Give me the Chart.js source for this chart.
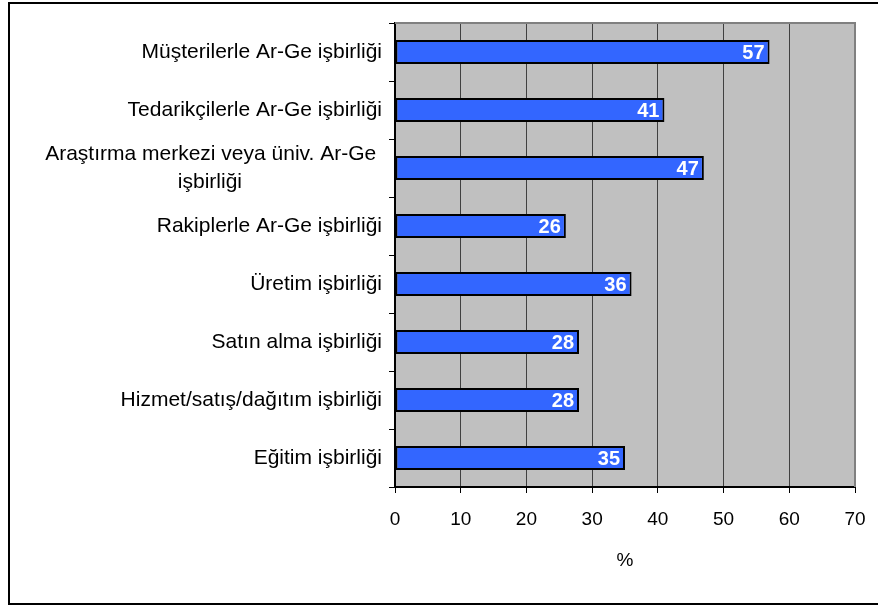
<!DOCTYPE html>
<html>
<head>
<meta charset="utf-8">
<script src="https://cdn.jsdelivr.net/npm/chart.js@4/dist/chart.umd.min.js"></script>
<style>
html,body{margin:0;padding:0;background:#fff;}
#wrap{position:relative;width:878px;height:608px;}
</style>
</head>
<body>
<div id="wrap"><canvas id="c" width="878" height="608"></canvas></div>
<script>
const categories = [
  "Müşterilerle Ar-Ge işbirliği",
  "Tedarikçilerle Ar-Ge işbirliği",
  ["Araştırma merkezi veya üniv. Ar-Ge ", "işbirliği" + " ".repeat(24)],
  "Rakiplerle Ar-Ge işbirliği",
  "Üretim işbirliği",
  "Satın alma işbirliği",
  "Hizmet/satış/dağıtım işbirliği",
  "Eğitim işbirliği"
];
const values = [57, 41, 47, 26, 36, 28, 28, 35];
const xTicks = [0, 10, 20, 30, 40, 50, 60, 70];
const xTitle = "%";

const FONT = "'Liberation Sans', Arial, sans-serif";

const bgPlugin = {
  id: 'bg',
  beforeDraw(chart) {
    const {ctx, chartArea: a} = chart;
    ctx.save();
    ctx.fillStyle = '#ffffff';
    ctx.fillRect(0, 0, chart.width, chart.height);
    ctx.fillStyle = '#c0c0c0';
    ctx.fillRect(a.left, a.top, a.right - a.left, a.bottom - a.top);
    ctx.strokeStyle = '#000';
    ctx.lineWidth = 2;
    ctx.beginPath();
    ctx.moveTo(chart.width + 5, 3);
    ctx.lineTo(9, 3);
    ctx.lineTo(9, 604);
    ctx.lineTo(chart.width + 5, 604);
    ctx.stroke();
    ctx.restore();
  },
  afterDatasetsDraw(chart) {
    const {ctx, chartArea: a} = chart;
    ctx.save();
    ctx.strokeStyle = '#808080';
    ctx.lineWidth = 2;
    ctx.beginPath();
    ctx.moveTo(a.left, a.top);
    ctx.lineTo(a.right, a.top);
    ctx.lineTo(a.right, a.bottom);
    ctx.stroke();
    const meta = chart.getDatasetMeta(0);
    ctx.fillStyle = '#ffffff';
    ctx.font = "bold 20px " + FONT;
    ctx.textAlign = 'right';
    ctx.textBaseline = 'middle';
    meta.data.forEach((bar, i) => {
      ctx.fillText(String(values[i]), bar.x - 5, bar.y + 1);
    });
    ctx.restore();
  }
};

new Chart(document.getElementById('c'), {
  type: 'bar',
  data: {
    labels: categories,
    datasets: [{
      data: values,
      backgroundColor: '#3366ff',
      borderColor: '#000000',
      borderWidth: 2,
      borderSkipped: false,
      categoryPercentage: 0.41,
      barPercentage: 1.0
    }]
  },
  plugins: [bgPlugin],
  options: {
    indexAxis: 'y',
    responsive: false,
    animation: false,
    devicePixelRatio: 1,
    layout: {padding: {top: 23, right: 23, left: 0, bottom: 0}},
    plugins: {legend: {display: false}, tooltip: {enabled: false}},
    scales: {
      x: {
        min: 0, max: 70,
        afterBuildTicks(scale) { scale.ticks = xTicks.map(v => ({value: v})); },
        afterFit(scale) { scale.height = 121; scale.paddingLeft = 0; scale.paddingRight = 0; },
        grid: {color: '#404040', lineWidth: 1, drawTicks: true, tickLength: 6, tickColor: '#000'},
        border: {color: '#000', width: 2},
        ticks: {color: '#000', font: {family: FONT, size: 19}, padding: 15, maxRotation: 0},
        title: {display: true, text: xTitle, color: '#000', font: {family: FONT, size: 19}, padding: {top: 0, bottom: 36}}
      },
      y: {
        afterFit(scale) { scale.width = 395; scale.paddingTop = 0; scale.paddingBottom = 0; },
        grid: {drawOnChartArea: false, drawTicks: true, tickLength: 6, tickColor: '#000', offset: true},
        border: {color: '#000', width: 2},
        ticks: {color: '#000', font: {family: FONT, size: 21, lineHeight: 1.35}, padding: 7, autoSkip: false}
      }
    }
  }
});
</script>
</body>
</html>
